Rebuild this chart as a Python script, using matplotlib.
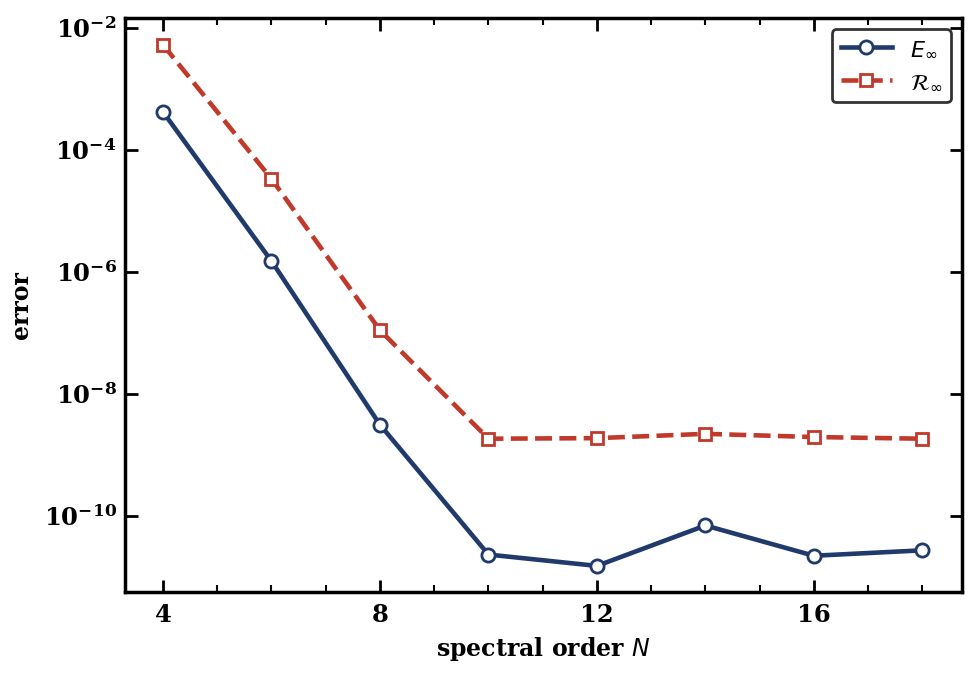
import matplotlib
matplotlib.use("Agg")
import matplotlib.pyplot as plt
from matplotlib.ticker import MultipleLocator, LogLocator, NullLocator

N = [4, 6, 8, 10, 12, 14, 16, 18]
E_inf = [4.2e-4, 1.5e-6, 3.1e-9, 2.3e-11, 1.5e-11, 6.9e-11, 2.2e-11, 2.7e-11]
R_inf = [5.3e-3, 3.35e-5, 1.1e-7, 1.83e-9, 1.87e-9, 2.2e-9, 1.95e-9, 1.83e-9]

plt.rcParams['font.family'] = 'DejaVu Serif'
plt.rcParams['mathtext.fontset'] = 'dejavusans'

fig = plt.figure(figsize=(9.8, 6.74), dpi=100)
ax = fig.add_axes([0.1276, 0.1217, 0.854, 0.8516])

blue = '#1f3a6b'
red = '#c0392b'
ax.plot(N, E_inf, '-', color=blue, lw=3.3, marker='o', ms=9.5, mfc='white', mec=blue, mew=2, label=r'$E_\infty$')
ax.plot(N, R_inf, '--', color=red, lw=3.3, marker='s', ms=9, mfc='white', mec=red, mew=2, label=r'$\mathcal{R}_\infty$')

ax.set_yscale('log')
ax.set_xlim(3.3, 18.73)
ax.set_ylim(5.6e-12, 1.46e-2)
ax.xaxis.set_major_locator(MultipleLocator(4))
ax.xaxis.set_minor_locator(MultipleLocator(1))
ax.yaxis.set_major_locator(LogLocator(base=100.0, numticks=10))
ax.yaxis.set_minor_locator(NullLocator())

for s in ax.spines.values():
    s.set_linewidth(2.5)
ax.tick_params(which='both', direction='in', top=True, right=True, labelsize=17.5, width=2)
ax.tick_params(which='major', length=9)
ax.tick_params(which='minor', length=5, width=1.5)
ax.tick_params(axis='x', pad=8)
ax.tick_params(axis='y', pad=6)
for lbl in ax.get_xticklabels() + ax.get_yticklabels():
    lbl.set_fontweight('bold')

ax.set_xlabel(r'spectral order $N$', fontsize=17, fontweight='bold', labelpad=6)
ax.set_ylabel('error', fontsize=17, fontweight='bold', labelpad=8)

leg = ax.legend(loc='upper right', fontsize=16, frameon=True, fancybox=True,
                edgecolor='#333333', framealpha=1, handlelength=2.3, borderpad=0.4)
leg.get_frame().set_linewidth(2)

fig.savefig('out.png', dpi=100)
